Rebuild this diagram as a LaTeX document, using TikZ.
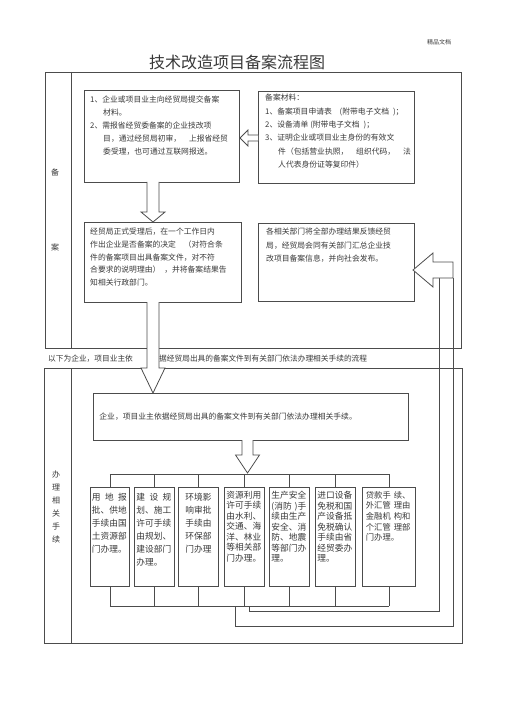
\documentclass[tikz,border=0pt]{standalone}
\usepackage{fontspec}
\setmainfont{Noto Sans CJK SC}
\usepackage{tikz}
\usetikzlibrary{positioning, calc}

\begin{document}
\begin{tikzpicture}[x=1pt, y=-1pt,
    every node/.append style={text=black!78},
    box/.style={draw=black!70, line width=0.8pt, anchor=north west, inner sep=0pt},
    txt/.style={anchor=north west, inner sep=0pt, align=left, font=\fontsize{7.8}{12.9}\selectfont},
    small/.style={anchor=north, inner sep=0pt, align=left, text width=36pt, font=\fontsize{8.7}{13}\selectfont},
    side/.style={inner sep=0pt, align=center, font=\fontsize{8}{13}\selectfont},
    line/.style={draw=black!70, line width=0.7pt},
    hollow/.style={draw=black!70, line width=0.8pt, fill=white},
]
\useasboundingbox (0,0) rectangle (505,714);

\node[font=\fontsize{6}{6}\selectfont] (mark) at (439,42) {精品文档};
\node[font=\fontsize{16}{16}\selectfont] (title) at (237,62) {技术改造项目备案流程图};

% upper frame
\node[box, minimum width=416pt, minimum height=276pt] (upper) at (45,72) {};
\draw[line] (71,72) -- (71,348);
\node[side] (bei) at (55,172) {备};
\node[side] (an) at (55,247) {案};

\node[box, minimum width=155pt, minimum height=92pt] (req) at (84,90) {};
\node[txt] (reqT) at ($(req.north west)+(6,6)$) {1、企业或项目业主向经贸局提交备案\\
  \hspace*{13pt}材料。\\
  2、需报省经贸委备案的企业技改项\\
  \hspace*{13pt}目，通过经贸局初审，\quad 上报省经贸\\
  \hspace*{13pt}委受理，也可通过互联网报送。};

\node[box, minimum width=156pt, minimum height=92pt] (mat) at (258,91) {};
\node[txt, font=\fontsize{7.8}{13.4}\selectfont] (matT) at ($(mat.north west)+(7,3)$) {备案材料：\\
  1、备案项目申请表\quad(附带电子文档\enspace)；\\
  2、设备清单 (附带电子文档\enspace)；\\
  3、证明企业或项目业主身份的有效文\\
  \hspace*{13pt}件（包括营业执照，\quad 组织代码，\quad 法\\
  \hspace*{13pt}人代表身份证等复印件）};

\node[box, minimum width=157pt, minimum height=80pt] (acc) at (84,222) {};
\node[txt, font=\fontsize{7.8}{12.7}\selectfont] (accT) at ($(acc.north west)+(6,6)$) {经贸局正式受理后，在一个工作日内\\
  作出企业是否备案的决定\quad（对符合条\\
  件的备案项目出具备案文件，对不符\\
  合要求的说明理由）\enspace，并将备案结果告\\
  知相关行政部门。};

\node[box, minimum width=156pt, minimum height=78pt] (fb) at (258,223) {};
\node[txt, font=\fontsize{7.8}{13.5}\selectfont] (fbT) at ($(fb.north west)+(8,5)$) {各相关部门将全部办理结果反馈经贸\\
  局，经贸局会同有关部门汇总企业技\\
  改项目备案信息，并向社会发布。};

% middle line of text
\node[txt, anchor=west, font=\fontsize{7.7}{7.7}\selectfont] (noteA) at (48,359) {以下为企业，项目业主依};
\node[txt, anchor=west, font=\fontsize{7.7}{7.7}\selectfont] (noteB) at (159,359) {据经贸局出具的备案文件到有关部门依法办理相关手续的流程};

% lower frame
\node[box, minimum width=418pt, minimum height=275pt] (lower) at (44,368) {};
\draw[line] (71,368) -- (71,643);
\node[side] (ban) at (56,507) {办\\理\\相\\关\\手\\续};

\node[box, minimum width=315pt, minimum height=47pt, align=left,
      font=\fontsize{7.8}{7.8}\selectfont] (go) at (93,393) {\hspace*{6pt}企业，项目业主依据经贸局出具的备案文件到有关部门依法办理相关手续。\hspace*{52pt}};

% department boxes
\foreach \n/\x/\w in {use/90/39, plan/134/40, env/178/40, res/224/40, safe/269/40, imp/315/40, loan/362/53}
  \node[box, minimum width=\w pt, minimum height=99pt] (\n) at (\x,487) {};

\node[small] (useT) at ($(use.north)+(0,6)$) {\makebox[35pt]{用\hfill 地\hfill 报}\\批、供地\\手续由国\\土资源部\\门办理。};
\node[small] (planT) at ($(plan.north)+(0,6)$) {\makebox[35pt]{建\hfill 设\hfill 规}\\划、施工\\许可手续\\由规划、\\建设部门\\办理。};
\node[small, align=center] (envT) at ($(env.north)+(0,6)$) {环境影\\响审批\\手续由\\环保部\\门办理};
\node[small, font=\fontsize{8.7}{10.5}\selectfont] (resT) at ($(res.north)+(0,4)$) {资源利用\\许可手续\\由水利、\\交通、海\\洋、林业\\等相关部\\门办理。};
\node[small, font=\fontsize{8.7}{10.5}\selectfont] (safeT) at ($(safe.north)+(0,4)$) {生产安全\\(消防 )手\\续由生产\\安全、消\\防、地震\\等部门办\\理。};
\node[small, font=\fontsize{8.7}{10.5}\selectfont] (impT) at ($(imp.north)+(0,4)$) {进口设备\\免税和国\\产设备抵\\免税确认\\手续由省\\经贸委办\\理。};
\node[small, text width=48pt, font=\fontsize{8.3}{10.6}\selectfont] (loanT) at ($(loan.north)+(1,4)$) {贷款手\hspace{3pt}续、\\外汇管\hspace{3pt}理由\\金融机\hspace{3pt}构和\\个汇管\hspace{3pt}理部\\门办理。};

% buses
\coordinate (busT) at (0,474);
\coordinate (busB) at (0,606);
\draw[line] (use.north |- busT) -- (loan.north |- busT);
\draw[line] (use.south |- busB) -- (loan.south |- busB);
\foreach \n in {use, plan, env, res, safe, imp, loan} {
  \draw[line] (\n.north) -- (\n.north |- busT);
  \draw[line] (\n.south) -- (\n.south |- busB);
}

% feedback to the right box
\coordinate (tapA) at (235,606);
\coordinate (tapB) at (249,606);
\draw[line] (tapA) -- (235,626) -- (453,626) -- (453,278);
\draw[line] (tapB) -- (249,611) -- (439,611) -- (439,278);

% hollow arrows
\coordinate (d1) at (153,182);
\draw[hollow, shift={(d1)}] (-6,0) -- (-6,30) -- (-12,30) -- (0,40) -- (12,30) -- (6,30) -- (6,0);
\coordinate (d2) at (153,302);
\draw[hollow, shift={(d2)}] (-6,0) -- (-6,66) -- (-12,66) -- (0,91) -- (12,66) -- (6,66) -- (6,0);
\coordinate (d3) at (247.5,440);
\draw[hollow, shift={(d3)}] (-5.5,0) -- (-5.5,15) -- (-12,15) -- (0,33) -- (12,15) -- (5.5,15) -- (5.5,0);
\coordinate (l1) at (258,138);
\draw[hollow, shift={(l1)}] (0,-3) -- (-10,-3) -- (-10,-8) -- (-18,0) -- (-10,8) -- (-10,3) -- (0,3);
\coordinate (r1) at (413,270);
\draw[hollow, shift={(r1)}] (40,-8) -- (20,-8) -- (20,-17) -- (0,0) -- (20,17) -- (20,8) -- (40,8) -- cycle;

\end{tikzpicture}
\end{document}
